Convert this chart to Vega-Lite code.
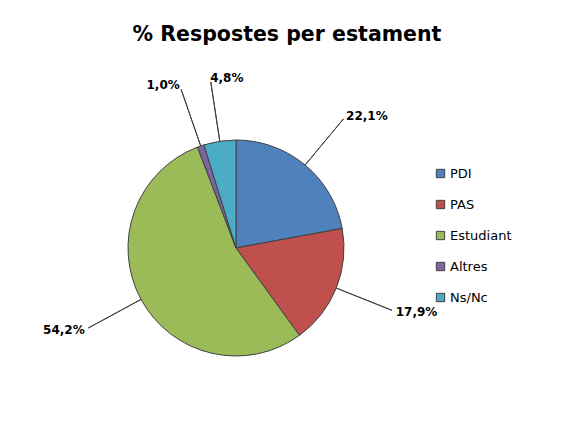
{
  "$schema": "https://vega.github.io/schema/vega-lite/v6.json",
  "padding": {"left": 6, "top": 24, "right": 0, "bottom": 0},
  "width": 460,
  "height": 396,
  "background": "white",
  "title": {"text": "% Respostes per estament", "fontSize": 20.5, "font": "DejaVu Sans", "fontWeight": "bold", "color": "black", "offset": 5, "anchor": "middle", "dx": 51},
  "data": {"values": [
    {"estament": "PDI", "value": 22.1, "order": 1, "label": "22,1%"},
    {"estament": "PAS", "value": 17.9, "order": 2, "label": "17,9%"},
    {"estament": "Estudiant", "value": 54.2, "order": 3, "label": "54,2%"},
    {"estament": "Altres", "value": 1.0, "order": 4, "label": "1,0%"},
    {"estament": "Ns/Nc", "value": 4.8, "order": 5, "label": "4,8%"}
  ]},
  "transform": [
    {"window": [{"op": "sum", "field": "value", "as": "cum"}], "sort": [{"field": "order"}], "frame": [null, 0]},
    {"calculate": "datum.cum - datum.value / 2", "as": "mid"}
  ],
  "layer": [
    {
      "mark": {"type": "arc", "outerRadius": 108, "stroke": "#404040", "strokeWidth": 1},
      "encoding": {
        "theta": {"field": "value", "type": "quantitative", "stack": true, "scale": {"domain": [0, 100]}},
        "order": {"field": "order", "type": "quantitative"},
        "color": {
          "field": "estament", "type": "nominal",
          "scale": {"domain": ["PDI", "PAS", "Estudiant", "Altres", "Ns/Nc"], "range": ["#4F81BD", "#C0504D", "#9BBB59", "#8064A2", "#4BACC6"]},
          "legend": {"title": null, "orient": "none", "legendX": 428, "legendY": 117, "symbolType": "square", "symbolSize": 70, "symbolStrokeColor": "#404040", "symbolStrokeWidth": 1, "labelFont": "DejaVu Sans", "labelFontSize": 13, "labelColor": "black", "rowPadding": 17, "labelOffset": 3}
        }
      }
    },
    {
      "mark": {"type": "arc", "innerRadius": 108, "outerRadius": 168, "stroke": "#404040", "strokeWidth": 1, "fillOpacity": 0},
      "encoding": {
        "theta": {"field": "mid", "type": "quantitative", "stack": false, "scale": {"domain": [0, 100]}},
        "theta2": {"field": "mid"}
      }
    },
    {
      "mark": {"type": "text", "radius": 172, "fontSize": 12, "fontWeight": "bold", "font": "DejaVu Sans", "color": "black", "baseline": "middle", "align": {"expr": "datum.mid < 50 || datum.mid > 96 ? 'left' : 'right'"}},
      "encoding": {
        "theta": {"field": "mid", "type": "quantitative", "stack": false, "scale": {"domain": [0, 100]}},
        "text": {"field": "label", "type": "nominal"}
      }
    }
  ],
  "resolve": {"scale": {"theta": "independent"}},
  "config": {"view": {"stroke": null}}
}
